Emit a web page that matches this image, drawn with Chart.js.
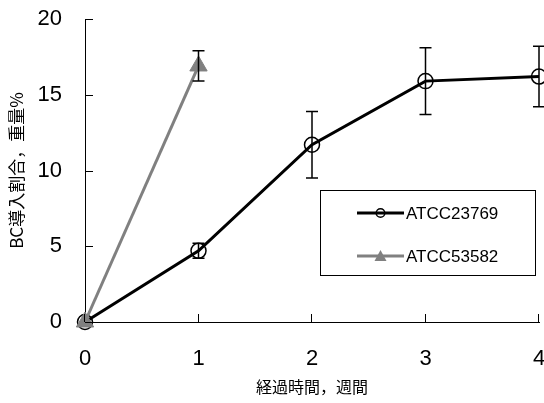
<!DOCTYPE html>
<html><head><meta charset="utf-8">
<script src="https://cdn.jsdelivr.net/npm/chart.js@4/dist/chart.umd.min.js"></script>
<style>html,body{margin:0;padding:0;background:#fff;}canvas{display:block;}</style>
</head><body>
<canvas id="c" width="544" height="403"></canvas>
<script>
const weeks = [0, 1, 2, 3, 4];
const atcc23769 = [0, 4.7, 11.7, 15.9, 16.2];
const atcc23769Err = [0, 0.5, 2.2, 2.2, 2.0];
const weeks53582 = [0, 1];
const atcc53582 = [0, 16.9];
const atcc53582Err = [0, 1.0];
const yTicks = [0, 5, 10, 15, 20];
const xTicks = [0, 1, 2, 3, 4];
const seriesNames = ['ATCC23769', 'ATCC53582'];
const xTitle = '経過時間，週間';
const yTitle = 'BC導入割合，重量%';

const numFont = "'Liberation Sans', Arial, sans-serif";
const cjkFont = "'Noto Sans CJK JP', sans-serif";

const errorBars = {
  id: 'errorBars',
  afterDatasetsDraw(chart) {
    const ctx = chart.ctx, xs = chart.scales.x, ys = chart.scales.y;
    ctx.save();
    ctx.strokeStyle = '#000';
    ctx.lineWidth = 1.5;
    const sets = [[weeks, atcc23769, atcc23769Err], [weeks53582, atcc53582, atcc53582Err]];
    sets.forEach(([xv, yv, ev]) => {
      xv.forEach((x, i) => {
        if (!ev[i]) return;
        const px = xs.getPixelForValue(x);
        const t = ys.getPixelForValue(yv[i] + ev[i]);
        const b = ys.getPixelForValue(yv[i] - ev[i]);
        ctx.beginPath();
        ctx.moveTo(px, t); ctx.lineTo(px, b);
        ctx.moveTo(px - 6, t); ctx.lineTo(px + 6, t);
        ctx.moveTo(px - 6, b); ctx.lineTo(px + 6, b);
        ctx.stroke();
      });
    });
    // inward ticks
    ctx.strokeStyle = '#000';
    ctx.lineWidth = 1;
    yTicks.forEach(v => {
      const py = Math.round(ys.getPixelForValue(v)) + 0.5;
      ctx.beginPath(); ctx.moveTo(xs.left, py); ctx.lineTo(xs.left + 8, py); ctx.stroke();
    });
    xTicks.forEach(v => {
      const px = Math.round(xs.getPixelForValue(v)) - 0.5;
      ctx.beginPath(); ctx.moveTo(px, ys.bottom); ctx.lineTo(px, ys.bottom - 8); ctx.stroke();
    });
    // legend
    const lx = 320, ly = 190, lw = 215, lh = 85;
    ctx.fillStyle = '#fff';
    ctx.fillRect(lx, ly, lw, lh);
    ctx.strokeStyle = '#000';
    ctx.lineWidth = 1;
    ctx.strokeRect(lx + 0.5, ly + 0.5, lw, lh);
    const rows = [
      {y: ly + 23, color: '#000', name: seriesNames[0], marker: 'circle'},
      {y: ly + 66, color: '#808080', name: seriesNames[1], marker: 'triangle'}
    ];
    rows.forEach(r => {
      ctx.strokeStyle = r.color; ctx.lineWidth = 3;
      ctx.beginPath(); ctx.moveTo(357, r.y); ctx.lineTo(404, r.y); ctx.stroke();
      if (r.marker === 'circle') {
        ctx.lineWidth = 1.5; ctx.strokeStyle = '#000';
        ctx.beginPath(); ctx.arc(380.5, r.y, 4.3, 0, Math.PI * 2); ctx.stroke();
      } else {
        ctx.fillStyle = r.color;
        ctx.beginPath(); ctx.moveTo(380.5, r.y - 6); ctx.lineTo(386.5, r.y + 5); ctx.lineTo(374.5, r.y + 5); ctx.closePath(); ctx.fill();
      }
      ctx.fillStyle = '#000';
      ctx.font = '17px ' + numFont;
      ctx.textBaseline = 'middle';
      ctx.textAlign = 'left';
      ctx.fillText(r.name, 406, r.y + 1);
    });
    ctx.restore();
  }
};

new Chart(document.getElementById('c'), {
  type: 'line',
  data: {
    datasets: [
      {
        label: seriesNames[1],
        data: weeks53582.map((x, i) => ({x, y: atcc53582[i]})),
        borderColor: '#808080', backgroundColor: '#808080',
        borderWidth: 3, pointStyle: 'triangle', pointRadius: 10,
        pointBackgroundColor: '#808080', pointBorderColor: '#808080', pointBorderWidth: 1,
        tension: 0, clip: false
      },
      {
        label: seriesNames[0],
        data: weeks.map((x, i) => ({x, y: atcc23769[i]})),
        borderColor: '#000', backgroundColor: 'rgba(0,0,0,0)',
        borderWidth: 3, pointStyle: 'circle', pointRadius: 7.5,
        pointBackgroundColor: 'rgba(0,0,0,0)', pointBorderColor: '#000', pointBorderWidth: 1.5,
        tension: 0, clip: false
      }
    ]
  },
  options: {
    responsive: false,
    animation: false,
    layout: {autoPadding: false, padding: {top: 19, right: 5, left: 0, bottom: 0}},
    plugins: {legend: {display: false}, tooltip: {enabled: false}},
    scales: {
      x: {
        type: 'linear', min: 0, max: 4,
        afterBuildTicks: s => { s.ticks = xTicks.map(v => ({value: v})); },
        afterFit: s => { s.height = 81; s.paddingLeft = 0; s.paddingRight = 0; },
        grid: {display: false, drawTicks: false, tickLength: 0},
        border: {display: true, color: '#000', width: 1},
        ticks: {color: '#000', font: {family: numFont, size: 22}, padding: 24, maxRotation: 0},
        title: {display: true, text: xTitle, color: '#000', font: {family: cjkFont, size: 16}, padding: {top: 0, bottom: 6}}
      },
      y: {
        type: 'linear', min: 0, max: 20,
        afterBuildTicks: s => { s.ticks = yTicks.map(v => ({value: v})); },
        afterFit: s => { s.width = 85; s.paddingTop = 0; s.paddingBottom = 0; },
        grid: {display: false, drawTicks: false, tickLength: 0},
        border: {display: true, color: '#000', width: 1},
        ticks: {color: '#000', font: {family: numFont, size: 22}, padding: 23},
        title: {display: true, text: yTitle, color: '#000', font: {family: cjkFont, size: 17}, padding: {top: 6, bottom: 0}}
      }
    }
  },
  plugins: [errorBars]
});
</script>
</body></html>
